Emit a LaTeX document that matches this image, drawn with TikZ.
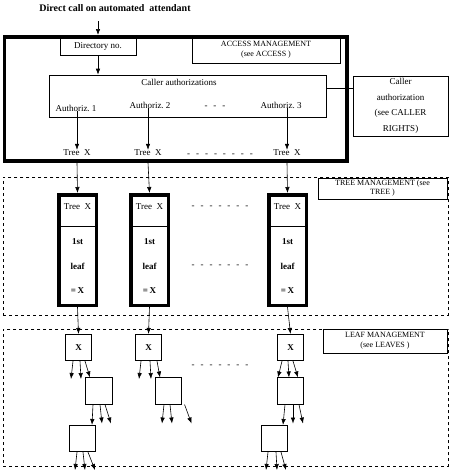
\documentclass[tikz,border=0pt]{standalone}
\usepackage{fontspec}
\setmainfont{Liberation Serif}
\usetikzlibrary{arrows.meta}
\newcommand{\dsh}[1]{\foreach \k in {1,...,#1}{-\hspace{6pt}}-}
\begin{document}
\begin{tikzpicture}[x=1pt,y=-1pt,
  font=\fontsize{9}{10}\selectfont,
  box/.style={draw, line width=0.6pt, inner sep=0pt},
  thickbox/.style={draw, line width=3.5pt, inner sep=0pt},
  dbox/.style={draw, line width=0.6pt, dash pattern=on 3pt off 3pt, inner sep=0pt},
  lbl/.style={box, align=center, font=\fontsize{8}{10}\selectfont},
  txt/.style={inner sep=0pt},
  btxt/.style={inner sep=0pt, font=\bfseries\fontsize{9}{10}\selectfont},
  arr/.style={-{Latex[length=6pt,width=4.5pt]}, line width=0.6pt},
  leaf/.style={box, minimum width=26.5pt, minimum height=26.5pt}
]
\useasboundingbox (0,0) rectangle (450,472);

% title
\node[txt, font=\bfseries\fontsize{10}{11}\selectfont] (title) at (115,8) {Direct call on automated\ \ attendant};

% access management
\node[thickbox, minimum width=342.5pt, minimum height=124pt, anchor=north west] (outer) at (2.5,35) {};
\coordinate (in) at (98,21);
\draw[arr] (in) -- (in |- outer.north);
\node[box, minimum width=76pt, minimum height=17pt] (dir) at (98,46.5) {Directory no.};
\node[lbl, minimum width=148pt, minimum height=26pt] (acc) at (266,50) {ACCESS MANAGEMENT\\(see ACCESS )};
\node[box, minimum width=277pt, minimum height=42pt] (cab) at (187.5,96) {};
\node[txt] (cat) at (179,82) {Caller authorizations};
\draw[arr] (dir.south) -- (dir.south |- cab.north);
\node[txt] (a1) at (76,108) {Authoriz.\ 1};
\node[txt] (a2) at (150,105) {Authoriz.\ 2};
\node[txt] (ad) at (215,107) {\dsh{2}};
\node[txt] (a3) at (281,105) {Authoriz.\ 3};
\node[txt] (t1) at (77,153) {Tree\ \ X};
\node[txt] (t2) at (148,153) {Tree\ \ X};
\node[txt] (td) at (220,155) {\dsh{7}};
\node[txt] (t3) at (287,153) {Tree\ \ X};
\draw[arr] (a1.south -| t1) -- (t1.north);
\draw[arr] (a2.south -| t2) -- (t2.north);
\draw[arr] (a3.south -| t3) -- (t3.north);
\node[box, minimum width=95pt, minimum height=60pt, align=center,
  font=\fontsize{9}{15.5}\selectfont] (cr) at (400.5,106) {Caller\\authorization\\(see CALLER\\RIGHTS)};
\draw (cab.north east) ++(0,13) coordinate (j) -- (j -| cr.west);

% tree management
\node[dbox, minimum width=445pt, minimum height=138pt, anchor=north west] (tm) at (3,177) {};
\node[lbl, minimum width=129pt, minimum height=21pt, font=\fontsize{8}{9}\selectfont] (tml) at (382.5,188.5) {TREE MANAGEMENT (see\\TREE )};
\foreach \i/\x in {1/77.5,2/149.5,3/287.5}{
  \node[thickbox, minimum width=37.5pt, minimum height=110.5pt] (tb\i) at (\x,250) {};
  \draw[line width=0.6pt] (tb\i.west |- 0,226) -- (tb\i.east |- 0,226);
  \node[txt] (tbx\i) at (\x,207) {Tree\ \ X};
  \node[btxt] (tb1st\i) at (\x,242) {1st};
  \node[btxt] (tbl\i) at (\x,266) {leaf};
  \node[btxt] (tbe\i) at (\x,291) {=\,X};
}
\draw[arr] (t1 |- outer.south) -- (tb1.north);
\draw[arr] (t2 |- outer.south) -- (tb2.north);
\draw[arr] (t3 |- outer.south) -- (tb3.north);
\node[txt] (tbd1) at (220,207) {\dsh{6}};
\node[txt] (tbd2) at (220,266) {\dsh{6}};

% leaf management
\node[dbox, minimum width=445pt, minimum height=137pt, anchor=north west] (lm) at (3,329) {};
\node[lbl, minimum width=124pt, minimum height=24pt] (lml) at (385,341) {LEAF MANAGEMENT\\(see LEAVES )};
\node[leaf, font=\bfseries\fontsize{9}{10}\selectfont] (xb1) at (78.5,347.5) {X};
\node[leaf, font=\bfseries\fontsize{9}{10}\selectfont] (xb2) at (148.5,347.5) {X};
\node[leaf, font=\bfseries\fontsize{9}{10}\selectfont] (xb3) at (290.5,347.5) {X};
\draw[arr] (tb1.south) -- (xb1.north);
\draw[arr] (tb2.south) -- (xb2.north);
\draw[arr] (tb3.south) -- (xb3.north);
\node[txt] (ld) at (220,366) {\dsh{6}};
\node[leaf] (sb1) at (99,391) {};
\node[leaf] (sb2) at (168.5,391) {};
\node[leaf] (sb3) at (290.5,391) {};
\node[leaf] (lb1) at (82.5,438.5) {};
\node[leaf] (lb3) at (274.5,438.5) {};

% column 1
\draw[arr] ([xshift=-5.5pt]xb1.south) -- ++(-2,18);
\draw[arr] ([xshift=1.5pt]xb1.south) -- ++(1,18);
\draw[arr] ([xshift=6.5pt]xb1.south) -- ([xshift=-9pt]sb1.north);
\draw[arr] ([xshift=-6pt]sb1.south) -- ([xshift=9.5pt]lb1.north);
\draw[arr] ([xshift=1pt]sb1.south) -- ++(2,19);
\draw[arr] ([xshift=6pt]sb1.south) -- ++(6,19);
\draw[arr] ([xshift=-5.5pt]lb1.south) -- ++(-2,18);
\draw[arr] ([xshift=0.5pt]lb1.south) -- ++(2,18);
\draw[arr] ([xshift=5.5pt]lb1.south) -- ++(7,18);
% column 2
\draw[arr] ([xshift=-7.5pt]xb2.south) -- ++(-2,18);
\draw[arr] ([xshift=1.5pt]xb2.south) -- ++(1,18);
\draw[arr] ([xshift=8.5pt]xb2.south) -- ([xshift=-8.5pt]sb2.north);
\draw[arr] ([xshift=-4.5pt]sb2.south) -- ++(-2,19);
\draw[arr] ([xshift=1.5pt]sb2.south) -- ++(2,19);
\draw[arr] ([xshift=2.5pt]sb2.south east) -- ++(7,19);
% column 3
\draw[arr] ([xshift=-8.5pt]xb3.south) -- ([xshift=-12.5pt]sb3.north);
\draw[arr] ([xshift=-2.5pt]xb3.south) -- ([xshift=-1.5pt]sb3.north);
\draw[arr] ([xshift=2.5pt]xb3.south) -- ([xshift=7.5pt]sb3.north);
\draw[arr] ([xshift=-5.5pt]sb3.south) -- ([xshift=8.5pt]lb3.north);
\draw[arr] ([xshift=2.5pt]sb3.south) -- ++(0,19);
\draw[arr] ([xshift=8.5pt]sb3.south) -- ++(4,19);
\draw[arr] ([xshift=-6.5pt]lb3.south) -- ++(-2,18);
\draw[arr] ([xshift=1.5pt]lb3.south) -- ++(1,18);
\draw[arr] ([xshift=6.5pt]lb3.south) -- ++(5,18);
\end{tikzpicture}
\end{document}
